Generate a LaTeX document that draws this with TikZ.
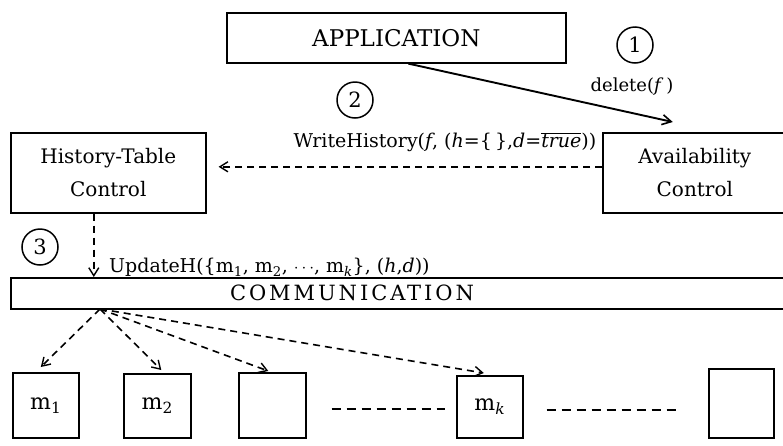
\documentclass[tikz,border=0pt]{standalone}
\usepackage{fontspec}
\setmainfont{DejaVu Serif}
\newfontfamily\spacedfont[LetterSpace=14]{DejaVu Serif}
\usetikzlibrary{arrows.meta}
\begin{document}
\begin{tikzpicture}[x=1pt,y=-1pt,
  box/.style={draw, line width=1.6pt, inner sep=0pt, align=center, font=\fontsize{20}{33}\selectfont},
  numc/.style={draw, circle, line width=1.5pt, minimum size=36pt, inner sep=0pt, font=\fontsize{21}{22}\selectfont},
  lbl/.style={font=\fontsize{19}{22}\selectfont, inner sep=1pt},
  darr/.style={dashed, dash pattern=on 7pt off 5pt, line width=1.6pt, -{Straight Barb[length=8pt,width=10pt,line width=1.4pt]}},
  sarr/.style={line width=1.9pt, -{Straight Barb[length=9pt,width=10pt,line width=1.6pt]}},
  dline/.style={dashed, dash pattern=on 9pt off 6pt, line width=1.6pt}]
\useasboundingbox (0,0) rectangle (783,445);
% boxes
\node[box, minimum width=339pt, minimum height=50pt, anchor=north west, font=\fontsize{23}{26}\selectfont] (app) at (226,12) {APPLICATION};
\node[box, minimum width=195pt, minimum height=80pt, anchor=north west] (hist) at (10,132) {History-Table\\Control};
\node[box, minimum width=184pt, minimum height=80pt, anchor=north west] (avail) at (602,132) {Availability\\Control};
\node[box, minimum width=780pt, minimum height=31pt, anchor=north west] (comm) at (10,277) {};
\node[font=\spacedfont\fontsize{21}{23}\selectfont] (commtext) at (352,293) {COMMUNICATION};
\node[box, minimum width=66pt, minimum height=65pt, anchor=north west, font=\fontsize{22}{24}\selectfont] (m1) at (12,372) {m\textsubscript{1}};
\node[box, minimum width=67pt, minimum height=64pt, anchor=north west, font=\fontsize{22}{24}\selectfont] (m2) at (123,373) {m\textsubscript{2}};
\node[box, minimum width=67pt, minimum height=65pt, anchor=north west] (e3) at (238,372) {};
\node[box, minimum width=66pt, minimum height=62pt, anchor=north west, font=\fontsize{22}{24}\selectfont] (mk) at (456,375) {m\textsubscript{\textit{k}}};
\node[box, minimum width=65pt, minimum height=69pt, anchor=north west] (last) at (708,368) {};
% circled numbers
\node[numc] (c1) at (635,45) {1};
\node[numc] (c2) at (355,100) {2};
\node[numc] (c3) at (40,247) {3};
% labels
\node[lbl, font=\fontsize{18}{20}\selectfont] (ldel) at (632,87) {delete(\textit{f}\,)};
\node[lbl] (lwrite) at (445,142) {WriteHistory(\textit{f}, (\textit{h}=\{\,\},\textit{d}=$\overline{\mbox{\textit{true}}}$))};
\node[lbl, anchor=west] (lupd) at (108,267) {UpdateH(\{m\textsubscript{1}, m\textsubscript{2}, $\cdots$, m\textsubscript{\textit{k}}\}, (\textit{h},\textit{d}))};
% connectors
\draw[sarr] ([xshift=12pt]app.south) -- ([xshift=-22pt,yshift=10pt]avail.north);
\draw[darr] ([yshift=6pt]avail.west) -- ([yshift=6pt,xshift=12pt]hist.east);
\draw[darr] ([xshift=-14.5pt]hist.south) coordinate (s) -- (s |- comm.north);
\coordinate (c) at (100,309);
\draw[darr] (c) -- ([xshift=-5pt,yshift=5pt]m1.north);
\draw[darr] (c) -- ([xshift=4pt,yshift=3pt]m2.north);
\draw[darr] (c) -- ([xshift=-4pt,yshift=1pt]e3.north);
\draw[darr] (c) -- ([xshift=-6pt,yshift=2pt]mk.north);
\draw[dline] ([xshift=25pt,yshift=-3.5pt]e3.east) coordinate (d1) -- ([xshift=-11pt]d1 -| mk.west);
\draw[dline] ([xshift=23pt,yshift=-3pt]mk.east) coordinate (d2) -- ([xshift=-28pt]d2 -| last.west);
\end{tikzpicture}
\end{document}
